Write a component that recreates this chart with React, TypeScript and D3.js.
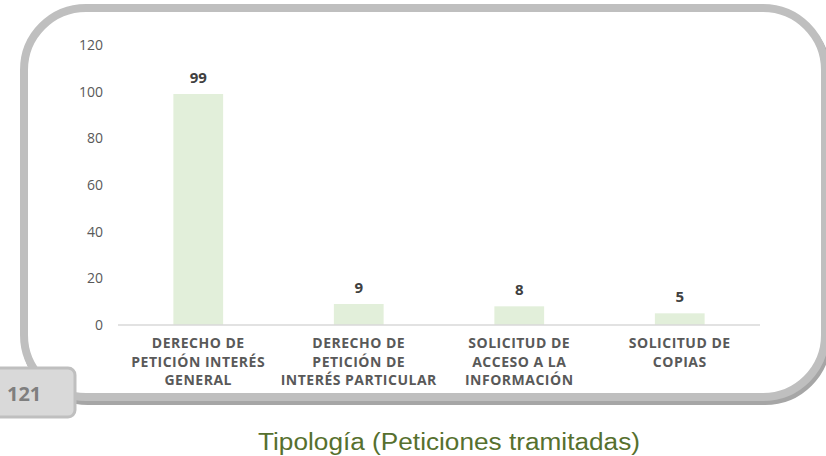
import React from "react";
import * as d3 from "d3";

const categories = [
  "Derecho de petición interés general",
  "Derecho de petición de interés particular",
  "Solicitud de acceso a la información",
  "Solicitud de copias",
];
const categoryLines = [
  ["DERECHO DE", "PETICIÓN INTERÉS", "GENERAL"],
  ["DERECHO DE", "PETICIÓN DE", "INTERÉS PARTICULAR"],
  ["SOLICITUD DE", "ACCESO A LA", "INFORMACIÓN"],
  ["SOLICITUD DE", "COPIAS"],
];
const values = [99, 9, 8, 5];
const yTicks = [0, 20, 40, 60, 80, 100, 120];
const pageNumber = "121";
const title = "Tipología (Peticiones tramitadas)";

const W = 826;
const H = 456;

// rounded frame path, with stroke centre coordinates
function framePath(x0: number, y0: number, x1: number, y1: number, r: number) {
  const p = d3.path();
  p.moveTo(x0 + r, y0);
  p.lineTo(x1 - r, y0);
  p.arcTo(x1, y0, x1, y0 + r, r);
  p.lineTo(x1, y1 - r);
  p.arcTo(x1, y1, x1 - r, y1, r);
  p.lineTo(x0 + r, y1);
  p.arcTo(x0, y1, x0, y1 - r, r);
  p.lineTo(x0, y0 + r);
  p.arcTo(x0, y0, x0 + r, y0, r);
  p.closePath();
  return p.toString();
}

export default function App() {
  const x = d3
    .scaleBand<string>()
    .domain(categories)
    .range([118, 760])
    .paddingInner(0.69)
    .paddingOuter(0.345);
  const y = d3.scaleLinear().domain([0, 120]).range([325, 45]);

  const frame = framePath(24, 8, 825, 397, 62);
  const chartFont = "'Open Sans', 'DejaVu Sans', sans-serif";

  return (
    <svg
      width={W}
      height={H}
      style={{ position: "absolute", left: 0, top: 0, background: "#fff" }}
    >
      {/* frame with shadow */}
      <path d={frame} transform="translate(2,4)" fill="none" stroke="#a6a6a6" strokeWidth={8} />
      <path d={frame} fill="#fff" stroke="#bfbfbf" strokeWidth={8} />

      {/* y axis tick labels */}
      {yTicks.map((t) => (
        <text
          key={t}
          x={103}
          y={y(t)}
          dy="0.35em"
          textAnchor="end"
          fontFamily={chartFont}
          fontSize={14}
          fill="#595959"
        >
          {t}
        </text>
      ))}

      {/* bars */}
      {categories.map((c, i) => (
        <rect
          key={c}
          x={x(c)}
          y={y(values[i])}
          width={x.bandwidth()}
          height={y(0) - y(values[i])}
          fill="#e2efda"
        />
      ))}

      {/* baseline */}
      <line x1={118} x2={760} y1={y(0)} y2={y(0)} stroke="#d9d9d9" strokeWidth={1.5} />

      {/* value labels */}
      {categories.map((c, i) => (
        <text
          key={c}
          x={(x(c) as number) + x.bandwidth() / 2}
          y={y(values[i]) - 11}
          textAnchor="middle"
          fontFamily={chartFont}
          fontWeight="bold"
          fontSize={15}
          fill="#404040"
        >
          {values[i]}
        </text>
      ))}

      {/* category labels */}
      {categories.map((c, i) => (
        <text
          key={c}
          textAnchor="middle"
          fontFamily={chartFont}
          fontWeight="bold"
          fontSize={14}
          letterSpacing={0.5}
          fill="#595959"
        >
          {categoryLines[i].map((line, j) => (
            <tspan key={j} x={(x(c) as number) + x.bandwidth() / 2} y={348 + j * 18.5}>
              {line}
            </tspan>
          ))}
        </text>
      ))}

      {/* page number tab */}
      <rect x={-6} y={368} width={81} height={49} rx={7} fill="#d9d9d9" stroke="#bfbfbf" strokeWidth={3} />
      <text
        x={7}
        y={401}
        fontFamily={chartFont}
        fontWeight="bold"
        fontSize={20}
        fill="#7f7f7f"
      >
        {pageNumber}
      </text>

      {/* title */}
      <text
        x={449}
        y={450}
        textAnchor="middle"
        fontFamily="'Liberation Sans', Arial, sans-serif"
        fontSize={23}
        textLength={382}
        lengthAdjust="spacingAndGlyphs"
        fill="#56702e"
      >
        {title}
      </text>
    </svg>
  );
}
